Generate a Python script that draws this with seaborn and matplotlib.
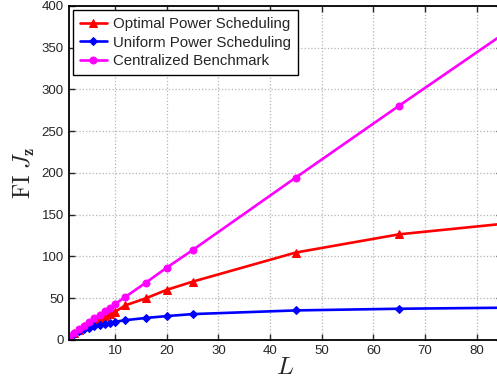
import seaborn as sns
import pandas as pd
import numpy as np
import matplotlib.pyplot as plt

L_vals = [1, 2, 3, 4, 5, 6, 7, 8, 9, 10, 12, 16, 20, 25, 45, 65, 85]
optimal = [4.3, 8.5, 12.5, 16.3, 19.8, 23.0, 26.0, 28.8, 31.4, 33.8,
           41.5, 50.0, 60.0, 69.8, 104.7, 126.5, 139.0]
uniform = [4.0, 7.5, 10.4, 12.8, 14.8, 16.5, 18.0, 19.3, 20.5, 21.8,
           23.7, 26.4, 28.6, 31.0, 35.4, 37.4, 38.6]
central = [4.3, 8.6, 12.9, 17.2, 21.5, 25.8, 30.1, 34.4, 38.7, 43.0,
           51.6, 68.8, 86.6, 107.6, 194.5, 280.5, 365.5]
names = ['Optimal Power Scheduling', 'Uniform Power Scheduling', 'Centralized Benchmark']

sns.set_style('ticks')
plt.rcParams['font.family'] = ['Liberation Sans', 'DejaVu Sans']
plt.rcParams['mathtext.fontset'] = 'cm'

df = pd.DataFrame({'L': L_vals * 3,
                   'FI': optimal + uniform + central,
                   'series': [names[0]] * len(L_vals) + [names[1]] * len(L_vals) + [names[2]] * len(L_vals)})

fig = plt.figure(figsize=(4.97, 3.89), dpi=100)
ax = fig.add_axes([0.138, 0.126, 0.873, 0.859])

colors = ['#ff0000', '#0000ff', '#ff00ff']
marks = ['^', 'D', 'o']
sizes = [6, 4.5, 5]
for n, c, m, s in zip(names, colors, marks, sizes):
    sns.lineplot(data=df[df['series'] == n], x='L', y='FI', ax=ax, color=c,
                 marker=m, markersize=s, markeredgecolor=c, linewidth=1.9,
                 label=n)

ax.set_xlim(1, 85)
ax.set_ylim(0, 400)
ax.set_xticks([10, 20, 30, 40, 50, 60, 70, 80])
ax.set_yticks(np.arange(0, 401, 50))
ax.grid(True, linestyle=':', color='#b4b4b4', linewidth=0.9)
ax.tick_params(direction='in', top=True, right=True, labelsize=9.5, length=4, width=1)
for sp in ax.spines.values():
    sp.set_linewidth(1.3)
    sp.set_color('black')
ax.set_xlabel(r'$L$', fontsize=18, labelpad=-1)
ax.set_ylabel(r'$\mathrm{FI}\ J_{\mathbf{z}}$', fontsize=17, labelpad=3)

leg = ax.legend(loc='upper left', fontsize=10.8, frameon=True, fancybox=False,
                borderaxespad=0.3, handlelength=1.8, labelspacing=0.3,
                borderpad=0.45, handletextpad=0.4)
leg.get_frame().set_edgecolor('black')
leg.get_frame().set_linewidth(1.0)
leg.get_frame().set_alpha(1)

fig.savefig('out.png', dpi=100)
